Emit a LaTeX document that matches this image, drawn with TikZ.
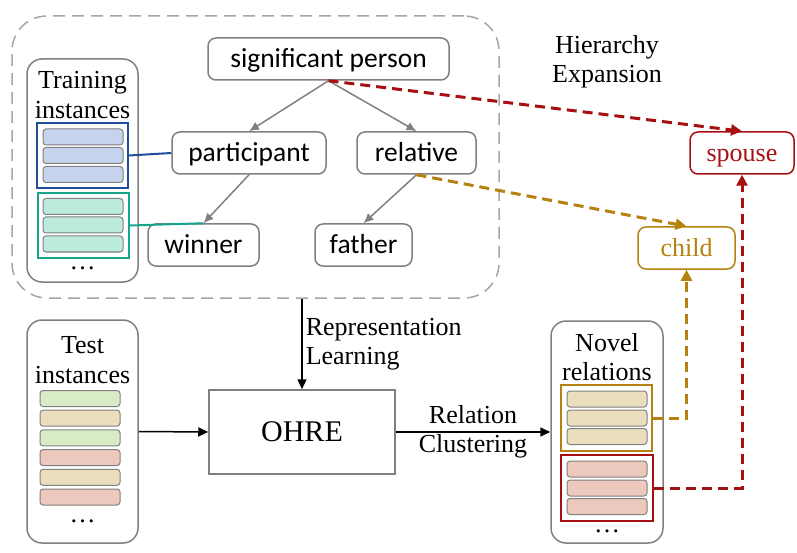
\documentclass[tikz,border=0pt]{standalone}
\usepackage{fontspec}
\setmainfont{Liberation Serif}
\newfontfamily\treefont{Carlito}
\usetikzlibrary{arrows.meta, positioning, fit}
\definecolor{boxgray}{HTML}{808080}
\definecolor{hierred}{HTML}{A80F12}
\definecolor{hiergold}{HTML}{B5820F}
\definecolor{setblue}{HTML}{1F4E9A}
\definecolor{setbluefill}{HTML}{C5D4EC}
\definecolor{setgreen}{HTML}{17A38A}
\definecolor{setgreenfill}{HTML}{BDEBDD}
\definecolor{testgreen}{HTML}{D9EBC5}
\definecolor{testtan}{HTML}{EBDEBD}
\definecolor{testpink}{HTML}{EDC8BC}

\begin{document}
\begin{tikzpicture}[x=1pt, y=-1pt,
    tree/.style={rectangle, rounded corners=8pt, draw=boxgray, line width=1.5pt, fill=white, inner sep=0pt, minimum height=42pt, text height=20pt, text depth=2pt, font=\treefont\fontsize{27.5}{31}\selectfont},
    newrel/.style={rectangle, rounded corners=8pt, line width=1.5pt, fill=white, inner sep=0pt, minimum height=42pt, text height=20pt, text depth=2pt, font=\fontsize{26}{29}\selectfont},
    inst/.style={rectangle, rounded corners=15pt, draw=boxgray, line width=1.5pt, minimum width=111pt, minimum height=223pt},
    bar/.style={rectangle, rounded corners=3pt, draw=boxgray, line width=1pt, minimum width=80pt, minimum height=16pt, inner sep=0pt},
    set/.style={rectangle, line width=2pt, minimum width=91pt, minimum height=65pt, inner sep=0pt},
    lbl/.style={font=\fontsize{26}{29.5}\selectfont, align=center, inner sep=3pt},
    arrow/.style={-{Triangle[length=10pt, width=9pt]}, line width=1.5pt, black},
    treearrow/.style={-{Latex[length=10pt, width=9pt]}, line width=1.5pt, boxgray},
    expand/.style={-{Triangle[length=11pt, width=11pt]}, line width=3pt, dash pattern=on 10pt off 6pt},
  ]
  \useasboundingbox (0,0) rectangle (797,553);

  % taxonomy of known relations
  \node[rectangle, rounded corners=35pt, draw=boxgray!70, line width=1.5pt, dash pattern=on 12pt off 7pt, minimum width=487pt, minimum height=282pt] (tax) at (255.5,157) {};
  \node[tree, minimum width=241pt] (sig) at (328.5,59) {significant person};
  \node[tree, minimum width=154pt] (part) at (249,153) {participant};
  \node[tree, minimum width=119pt] (relative) at (416.5,153) {relative};
  \node[tree, minimum width=111pt] (winner) at (203.5,245) {winner};
  \node[tree, minimum width=97pt] (father) at (363.5,245) {father};

  \draw[treearrow] (sig.south) -- (part.north);
  \draw[treearrow] (sig.south) -- (relative.north);
  \draw[treearrow] (part.south) -- (winner.north);
  \draw[treearrow] (relative.south) -- (father.north);

  % training instances
  \node[inst] (train) at (82.5,170.5) {};
  \node[lbl] (traintitle) at (82.5,95) {Training\\instances};
  \node[set, draw=setblue] (blueset) at (82.5,155.5) {};
  \node[set, draw=setgreen] (greenset) at (83,225.5) {};
  \foreach \y in {137,155.5,174.5}
    \node[bar, fill=setbluefill] at (83,\y) {};
  \foreach \y in {206.5,225,244}
    \node[bar, fill=setgreenfill] at (83,\y) {};
  \node[lbl] (traindots) at (82.5,268) {\dots};
  \draw[setblue, line width=2pt] (blueset.east) -- (part.west);
  \draw[setgreen, line width=2pt] (greenset.east) -- (winner.north);

  % hierarchy expansion
  \node[lbl] (hiertext) at (607,62) {Hierarchy\\Expansion};
  \node[newrel, draw=hierred, text=hierred, minimum width=104pt] (spouse) at (742,153) {spouse};
  \node[newrel, draw=hiergold, text=hiergold, minimum width=97pt] (child) at (686.5,248) {child};
  \draw[expand, hierred] (sig.south) -- (spouse.north);
  \draw[expand, hiergold] (relative.south) -- (child.north);

  % test instances
  \node[inst] (test) at (82.5,431.5) {};
  \node[lbl] (testtitle) at (82.5,360) {Test\\instances};
  \foreach \c [count=\i from 0] in {testgreen,testtan,testgreen,testpink,testtan,testpink}
    \node[bar, fill=\c] at (80,398.5+19.7*\i) {};
  \node[lbl] (testdots) at (82.5,521) {\dots};

  % model
  \node[rectangle, draw=boxgray, line width=1.5pt, minimum width=186pt, minimum height=84pt, font=\fontsize{30}{34}\selectfont] (ohre) at (302,432) {OHRE};
  \draw[arrow] (tax.south -| ohre.north) -- node[lbl, right, align=left] {Representation\\Learning} (ohre.north);
  \draw[arrow] (test.east) -- (ohre.west);

  % novel relations
  \node[inst, minimum width=112pt, minimum height=222pt] (novel) at (607,432) {};
  \node[lbl] (noveltitle) at (607,357) {Novel\\relations};
  \node[set, draw=hiergold, minimum height=66pt] (goldset) at (606.5,418) {};
  \node[set, draw=hierred, minimum width=92pt, minimum height=66pt] (redset) at (607,488) {};
  \foreach \y in {399,418,436.5}
    \node[bar, fill=testtan] at (607,\y) {};
  \foreach \y in {469,488,506.5}
    \node[bar, fill=testpink] at (607,\y) {};
  \node[lbl] (noveldots) at (607,531) {\dots};
  \draw[arrow] (ohre.east) -- node[lbl] {Relation\\Clustering} (novel.west);

  \draw[expand, hiergold] (goldset.east) -| (child.south);
  \draw[expand, hierred] (redset.east) -| (spouse.south);
\end{tikzpicture}
\end{document}
